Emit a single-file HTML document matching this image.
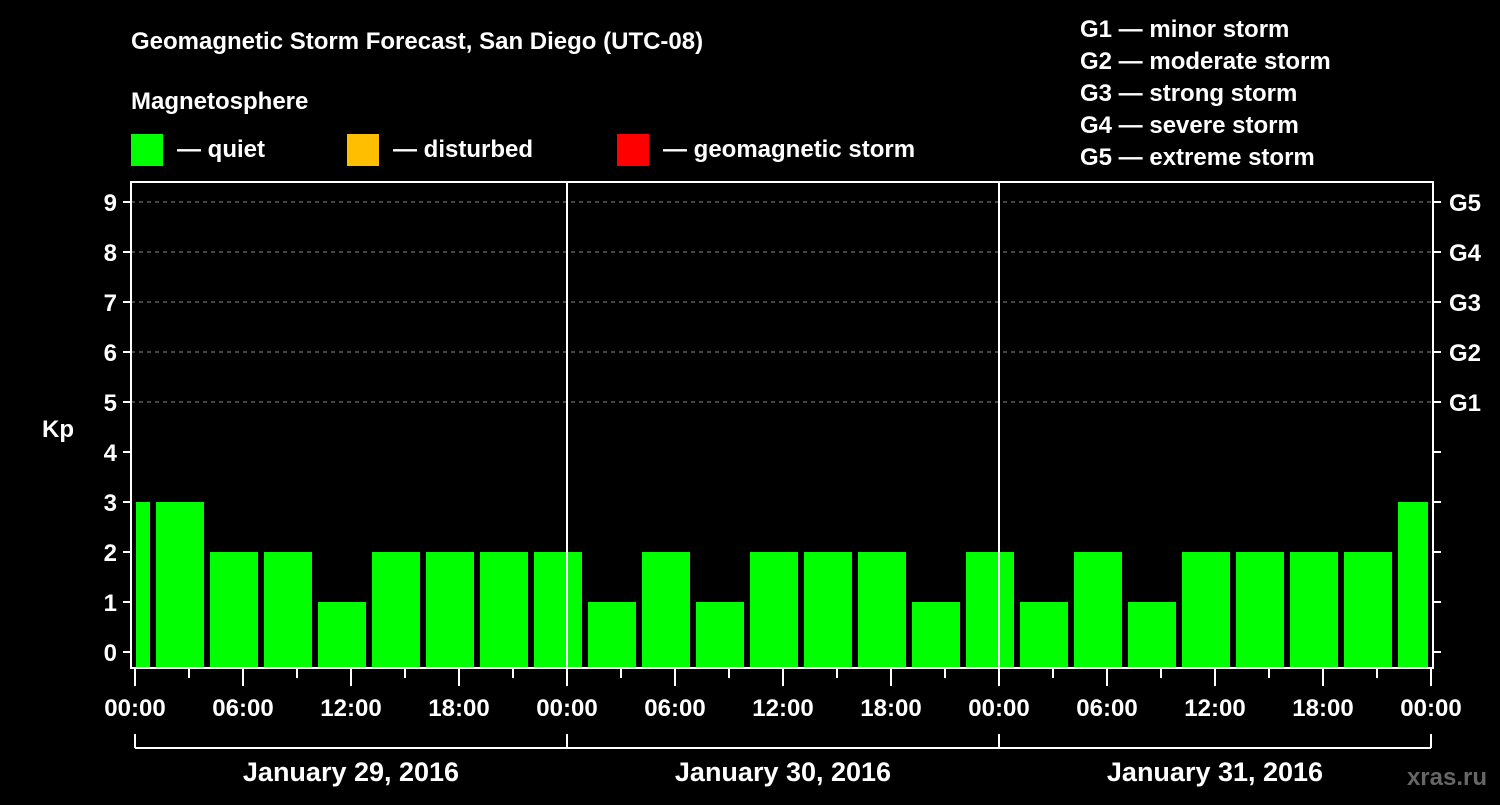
<!DOCTYPE html>
<html><head><meta charset="utf-8"><style>
body{margin:0;background:#000;width:1500px;height:800px;overflow:hidden}
text{font-family:"Liberation Sans",Arial,sans-serif;font-weight:bold;fill:#fff}
</style></head><body>
<svg id="chart" width="1500" height="800" xmlns="http://www.w3.org/2000/svg">
<text x="131" y="49" font-size="24">Geomagnetic Storm Forecast, San Diego (UTC-08)</text>
<text x="131" y="109" font-size="24">Magnetosphere</text>
<rect x="131" y="134" width="32" height="32" fill="#00ff00"/>
<text x="177" y="157" font-size="24">— quiet</text>
<rect x="347" y="134" width="32" height="32" fill="#ffbf00"/>
<text x="393" y="157" font-size="24">— disturbed</text>
<rect x="617" y="134" width="32" height="32" fill="#ff0000"/>
<text x="663" y="157" font-size="24">— geomagnetic storm</text>
<g>
<text x="1080" y="37" font-size="24">G1 — minor storm</text>
<text x="1080" y="69" font-size="24">G2 — moderate storm</text>
<text x="1080" y="101" font-size="24">G3 — strong storm</text>
<text x="1080" y="133" font-size="24">G4 — severe storm</text>
<text x="1080" y="165" font-size="24">G5 — extreme storm</text>
</g>
<text x="42" y="437" font-size="24">Kp</text>
<text x="1487" y="785" font-size="24" text-anchor="end" fill="#666" style="fill:#666">xras.ru</text>
<g id="grid"></g><g id="bars"></g><g id="axes"></g>
</svg>
<script>
const kpValues=[3,3,2,2,1,2,2,2,2,1,2,1,2,2,2,1,2,1,2,1,2,2,2,2,3];
const binStartHour=-2;
const yTicks=[0,1,2,3,4,5,6,7,8,9];
const gLabels=["G1","G2","G3","G4","G5"];
const xTickLabels=["00:00","06:00","12:00","18:00","00:00","06:00","12:00","18:00","00:00","06:00","12:00","18:00","00:00"];
const dayLabels=["January 29, 2016","January 30, 2016","January 31, 2016"];
const NS="http://www.w3.org/2000/svg";
const L=131,R=1433,T=182,B=668;
const x=h=>135+h*18;
const y=v=>652-v*50;
function mk(tag,attrs,parent){const e=document.createElementNS(NS,tag);for(const k in attrs)e.setAttribute(k,attrs[k]);document.getElementById(parent).appendChild(e);return e;}
// grid
for(let v=5;v<=9;v++){const e=mk('line',{x1:L,x2:R,y1:y(v),y2:y(v),stroke:'#888','stroke-dasharray':'4,4','stroke-width':1},'grid');

}
// bars
kpValues.forEach((v,i)=>{let h0=Math.max(0,binStartHour+3*i),h1=Math.min(72,binStartHour+3*i+3);
const x0=x(h0)+(h0===0?1:3),x1=x(h1)-3;
const c=v>=5?'#ff0000':(v>=4?'#ffbf00':'#00ff00');
const e=mk('rect',{x:x0,y:y(v),width:x1-x0,height:B-y(v),fill:c},'bars');

});
// frame
const f=mk('rect',{x:L,y:T,width:R-L,height:B-T,fill:'none',stroke:'#fff','stroke-width':2},'axes');


[1,2].forEach(d=>{const e=mk('line',{x1:x(24*d),x2:x(24*d),y1:T,y2:B,stroke:'#fff','stroke-width':2},'axes');

});
yTicks.forEach(v=>{mk('line',{x1:123,x2:L,y1:y(v),y2:y(v),stroke:'#fff','stroke-width':2},'axes');
mk('line',{x1:R,x2:1441,y1:y(v),y2:y(v),stroke:'#fff','stroke-width':2},'axes');
const t=mk('text',{x:117,y:y(v)+9,'font-size':24,'text-anchor':'end'},'axes');t.textContent=v;

});
gLabels.forEach((g,i)=>{const t=mk('text',{x:1449,y:y(5+i)+9,'font-size':24},'axes');t.textContent=g;

});
for(let h=0;h<=72;h+=3){const maj=h%6===0;mk('line',{x1:x(h),x2:x(h),y1:B,y2:maj?686:678,stroke:'#fff','stroke-width':2},'axes');}
xTickLabels.forEach((s,i)=>{const t=mk('text',{x:x(i*6),y:716,'font-size':24,'text-anchor':'middle'},'axes');t.textContent=s;

});
mk('line',{x1:x(0),x2:x(72),y1:748,y2:748,stroke:'#fff','stroke-width':2},'axes');
for(let d=0;d<=3;d++)mk('line',{x1:x(24*d),x2:x(24*d),y1:734,y2:748,stroke:'#fff','stroke-width':2},'axes');
dayLabels.forEach((s,i)=>{const t=mk('text',{x:x(24*i+12),y:781,'font-size':27,'text-anchor':'middle'},'axes');t.textContent=s;

});
</script>
</body></html>
